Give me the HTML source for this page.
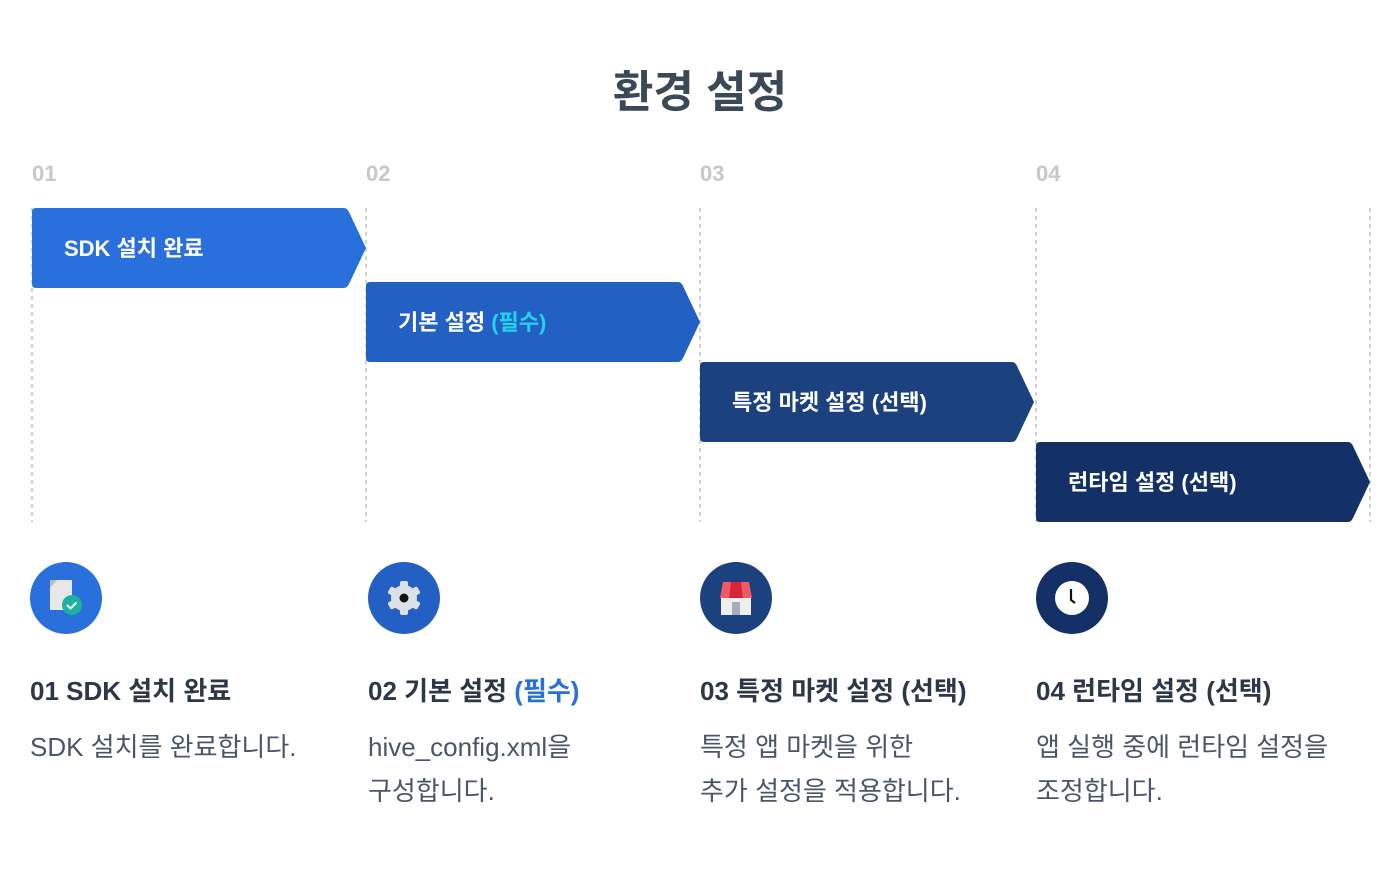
<!DOCTYPE html>
<html><head><meta charset="utf-8"><style>
body{margin:0;background:#fff;width:1400px;height:872px;overflow:hidden;font-family:"Liberation Sans","Noto Sans CJK KR",sans-serif;}
svg{position:absolute;left:0;top:0}
.t{position:absolute;white-space:nowrap}
</style></head><body>
<svg width="1400" height="872">
<g stroke="#c4c4c4" stroke-width="1.5" stroke-dasharray="4,4">
<line x1="32" y1="208" x2="32" y2="522"/><line x1="366" y1="208" x2="366" y2="522"/><line x1="700" y1="208" x2="700" y2="522"/><line x1="1036" y1="208" x2="1036" y2="522"/><line x1="1370" y1="208" x2="1370" y2="522"/>
</g>
<path d="M36 208H344Q347 208 349 212L366 248L349 284Q347 288 344 288H36Q32 288 32 284V212Q32 208 36 208Z" fill="#2a70dc"/>
<path d="M370 282H678Q681 282 683 286L700 322L683 358Q681 362 678 362H370Q366 362 366 358V286Q366 282 370 282Z" fill="#2360c4"/>
<path d="M704 362H1012Q1015 362 1017 366L1034 402L1017 438Q1015 442 1012 442H704Q700 442 700 438V366Q700 362 704 362Z" fill="#1b417f"/>
<path d="M1040 442H1348Q1351 442 1353 446L1370 482L1353 518Q1351 522 1348 522H1040Q1036 522 1036 518V446Q1036 442 1040 442Z" fill="#133166"/>
<circle cx="66" cy="598" r="36" fill="#2a70dc"/>
<path d="M50 580H72V610H50Z" fill="#e8e8ea"/><path d="M50 580L57 580L50 588Z" fill="#bbb"/>
<circle cx="72" cy="605" r="10" fill="#20b0a0"/><path d="M67 605l3.5 3.5 6-6" stroke="#fff" stroke-width="2" fill="none"/>
<circle cx="404" cy="598" r="36" fill="#2360c4"/>
<g fill="#dde0e6"><circle cx="404" cy="598" r="13"/>
<rect x="400" y="581" width="8" height="34" rx="2"/><rect x="400" y="581" width="8" height="34" rx="2" transform="rotate(60 404 598)"/><rect x="400" y="581" width="8" height="34" rx="2" transform="rotate(-60 404 598)"/></g>
<circle cx="404" cy="598" r="4.5" fill="#111"/>
<circle cx="736" cy="598" r="36" fill="#1b417f"/>
<rect x="721" y="596" width="30" height="19" fill="#eee"/><rect x="732" y="602" width="8" height="13" fill="#aab"/>
<path d="M723 582H749L752 598H720Z" fill="#f05a66"/><path d="M731 582H741L743 598H729Z" fill="#d8223a"/>
<circle cx="1072" cy="598" r="36" fill="#133166"/>
<circle cx="1072" cy="598" r="17" fill="#fff"/><path d="M1071 589V600L1075 603" stroke="#111" stroke-width="2.2" fill="none"/>
</svg>
<div class="t" style="left:0;width:1400px;text-align:center;top:56px;font-size:44px;font-weight:bold;color:#3b4858">환경 설정</div>
<div class="t" style="left:32px;top:161px;font-size:22px;font-weight:bold;color:#c8c8cc">01</div>
<div class="t" style="left:366px;top:161px;font-size:22px;font-weight:bold;color:#c8c8cc">02</div>
<div class="t" style="left:700px;top:161px;font-size:22px;font-weight:bold;color:#c8c8cc">03</div>
<div class="t" style="left:1036px;top:161px;font-size:22px;font-weight:bold;color:#c8c8cc">04</div>
<div class="t" style="left:64px;top:231px;font-size:22px;font-weight:bold;color:#fff">SDK 설치 완료</div>
<div class="t" style="left:398px;top:305px;font-size:22px;font-weight:bold;color:#fff">기본 설정 <span style="color:#22d3ee">(필수)</span></div>
<div class="t" style="left:732px;top:385px;font-size:22px;font-weight:bold;color:#fff">특정 마켓 설정 (선택)</div>
<div class="t" style="left:1068px;top:465px;font-size:22px;font-weight:bold;color:#fff">런타임 설정 (선택)</div>
<div class="t" style="left:30px;top:671px;font-size:26px;font-weight:bold;color:#2d3748">01 SDK 설치 완료</div>
<div class="t" style="left:368px;top:671px;font-size:26px;font-weight:bold;color:#2d3748">02 기본 설정 <span style="color:#2a70dc">(필수)</span></div>
<div class="t" style="left:700px;top:671px;font-size:26px;font-weight:bold;color:#2d3748">03 특정 마켓 설정 (선택)</div>
<div class="t" style="left:1036px;top:671px;font-size:26px;font-weight:bold;color:#2d3748">04 런타임 설정 (선택)</div>
<div class="t" style="left:30px;top:725px;font-size:26px;line-height:44px;color:#4a5568">SDK 설치를 완료합니다.</div>
<div class="t" style="left:368px;top:725px;font-size:26px;line-height:44px;color:#4a5568">hive_config.xml을<br>구성합니다.</div>
<div class="t" style="left:700px;top:725px;font-size:26px;line-height:44px;color:#4a5568">특정 앱 마켓을 위한<br>추가 설정을 적용합니다.</div>
<div class="t" style="left:1036px;top:725px;font-size:26px;line-height:44px;color:#4a5568">앱 실행 중에 런타임 설정을<br>조정합니다.</div>
</body></html>
